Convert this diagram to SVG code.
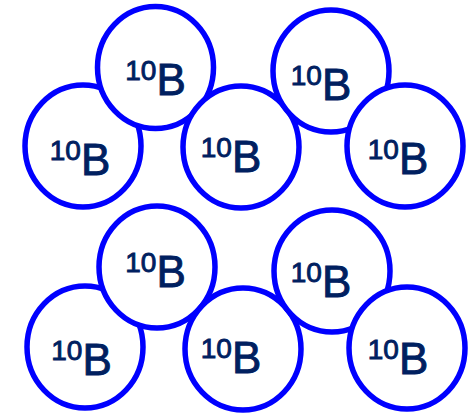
<svg xmlns="http://www.w3.org/2000/svg" width="470" height="414" viewBox="0 0 470 414">
<style>
.c{fill:#fff;stroke:#0000ff;stroke-width:5.5}
.t{font-family:"Liberation Sans",Arial,sans-serif;fill:#002060;stroke:#002060;stroke-width:0.9;text-anchor:middle}
.s{font-size:28px}
.b{font-size:44px}
</style>
<rect width="470" height="414" fill="#fff"/>
<g id="n1"><ellipse class="c" cx="83" cy="146" rx="58" ry="61"/><text class="t" x="80"><tspan class="s" y="160">10</tspan><tspan class="b" dy="15">B</tspan></text></g>
<g id="n2"><ellipse class="c" cx="155.5" cy="67.5" rx="58" ry="61"/><text class="t" x="155.5"><tspan class="s" y="80">10</tspan><tspan class="b" dy="15">B</tspan></text></g>
<g id="n3"><ellipse class="c" cx="241" cy="147" rx="58" ry="61"/><text class="t" x="231"><tspan class="s" y="157">10</tspan><tspan class="b" dy="15">B</tspan></text></g>
<g id="n4"><ellipse class="c" cx="331" cy="71" rx="58" ry="61"/><text class="t" x="321"><tspan class="s" y="85">10</tspan><tspan class="b" dy="15">B</tspan></text></g>
<g id="n5"><ellipse class="c" cx="405" cy="146" rx="58" ry="61"/><text class="t" x="398"><tspan class="s" y="159">10</tspan><tspan class="b" dy="15">B</tspan></text></g>
<g id="n6"><ellipse class="c" cx="85" cy="347" rx="58" ry="61"/><text class="t" x="81.5"><tspan class="s" y="360">10</tspan><tspan class="b" dy="15">B</tspan></text></g>
<g id="n7"><ellipse class="c" cx="157" cy="267" rx="58" ry="61"/><text class="t" x="155.5"><tspan class="s" y="272">10</tspan><tspan class="b" dy="15">B</tspan></text></g>
<g id="n8"><ellipse class="c" cx="243" cy="349" rx="58" ry="61"/><text class="t" x="231"><tspan class="s" y="358">10</tspan><tspan class="b" dy="15">B</tspan></text></g>
<g id="n9"><ellipse class="c" cx="332" cy="271" rx="58" ry="61"/><text class="t" x="321"><tspan class="s" y="282">10</tspan><tspan class="b" dy="15">B</tspan></text></g>
<g id="n10"><ellipse class="c" cx="407" cy="348" rx="58" ry="61"/><text class="t" x="398"><tspan class="s" y="359">10</tspan><tspan class="b" dy="15">B</tspan></text></g>
<g id="connectors"/>
</svg>
